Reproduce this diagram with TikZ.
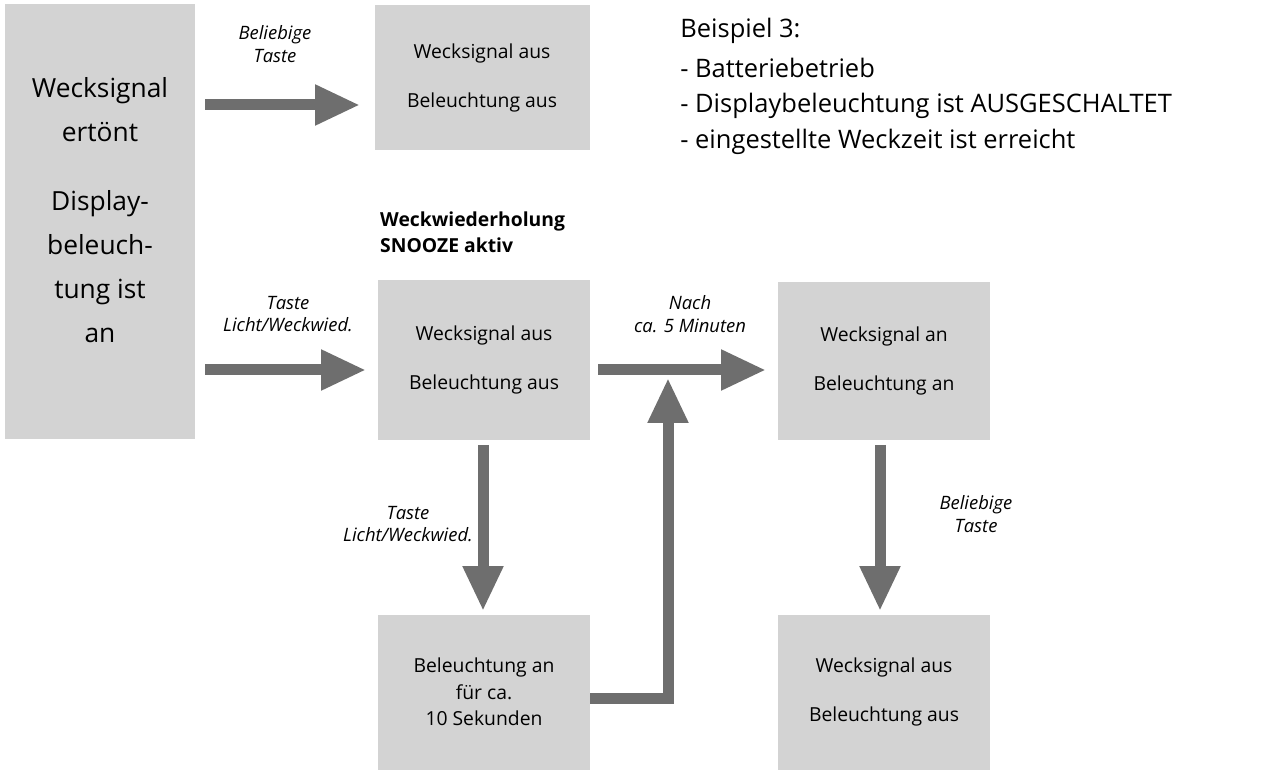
\documentclass[tikz,border=0pt]{standalone}
\usepackage{fontspec}
\setmainfont{Open Sans}
\usetikzlibrary{positioning,arrows.meta}
\definecolor{boxgray}{HTML}{D3D3D3}
\definecolor{arrowgray}{HTML}{6E6E6E}
\tikzstyle{box}=[fill=boxgray, inner sep=0pt, align=center, font=\fontsize{11}{22}\selectfont]
\tikzstyle{flow}=[draw=arrowgray, line width=2.2mm, -{Triangle[length=9mm,width=7.6mm]}]
\tikzstyle{lbl}=[align=center, font=\fontsize{10.5}{13}\selectfont\itshape]

\begin{document}
\begin{tikzpicture}[x=0.02cm, y=-0.02cm]
  \useasboundingbox (0,0) rectangle (1264,776);

  \node [box, minimum width=190*0.02cm, minimum height=435*0.02cm] at (100,222) (ring) {};
  \node [align=center, font=\fontsize{15}{25}\selectfont] at (100,210) (ringtext) {Wecksignal\\ertönt\\[5mm]Display-\\beleuch-\\tung ist\\an};
  \node [box, minimum width=215*0.02cm, minimum height=145*0.02cm] at (482,78) (off1) {Wecksignal aus\\[2mm]Beleuchtung aus};
  \node [box, minimum width=212*0.02cm, minimum height=160*0.02cm] at (484,360) (snooze) {Wecksignal aus\\[2mm]Beleuchtung aus};
  \node [box, minimum width=212*0.02cm, minimum height=158*0.02cm] at (884,361) (again) {Wecksignal an\\[2mm]Beleuchtung an};
  \node [box, minimum width=212*0.02cm, minimum height=155*0.02cm, font=\fontsize{11}{15}\selectfont] at (484,692) (light) {Beleuchtung an\\für ca.\\10 Sekunden};
  \node [box, minimum width=212*0.02cm, minimum height=155*0.02cm] at (884,692) (off2) {Wecksignal aus\\[2mm]Beleuchtung aus};

  \coordinate (a1) at (205,105);
  \coordinate (a2) at (205,370);
  \coordinate (b1) at (360,105);
  \coordinate (b2) at (366,370);
  \coordinate (c1) at (598,370);
  \coordinate (c2) at (766,370);
  \coordinate (d1) at (483,445);
  \coordinate (d2) at (483,611);
  \coordinate (e1) at (590,698);
  \coordinate (e2) at (668,698);
  \coordinate (e3) at (668,378);
  \coordinate (f1) at (880,445);
  \coordinate (f2) at (880,611);

  \draw [flow] (a1) -- (b1);
  \draw [flow] (a2) -- (b2);
  \draw [flow] (c1) -- (c2);
  \draw [flow] (d1) -- (d2);
  \draw [flow] (e1) -- (e2) -- (e3);
  \draw [flow] (f1) -- (f2);

  \node [lbl] at (275,44) (t1) {Beliebige\\Taste};
  \node [lbl] at (288,314) (t2) {Taste\\Licht/Weckwied.};
  \node [lbl] at (690,314) (t3) {Nach\\ca. 5 Minuten};
  \node [lbl] at (408,524) (t4) {Taste\\Licht/Weckwied.};
  \node [lbl] at (976,514) (t5) {Beliebige\\Taste};

  \node [anchor=west, align=left, font=\fontsize{11}{15}\bfseries] at (374,232) (head) {Weckwiederholung\\SNOOZE aktiv};
  \node [anchor=north west, align=left, inner sep=0pt, font=\fontsize{14.5}{20}\selectfont] at (680,18) (info) {Beispiel 3:\\[1mm]- Batteriebetrieb\\- Displaybeleuchtung ist AUSGESCHALTET\\- eingestellte Weckzeit ist erreicht};
\end{tikzpicture}
\end{document}
